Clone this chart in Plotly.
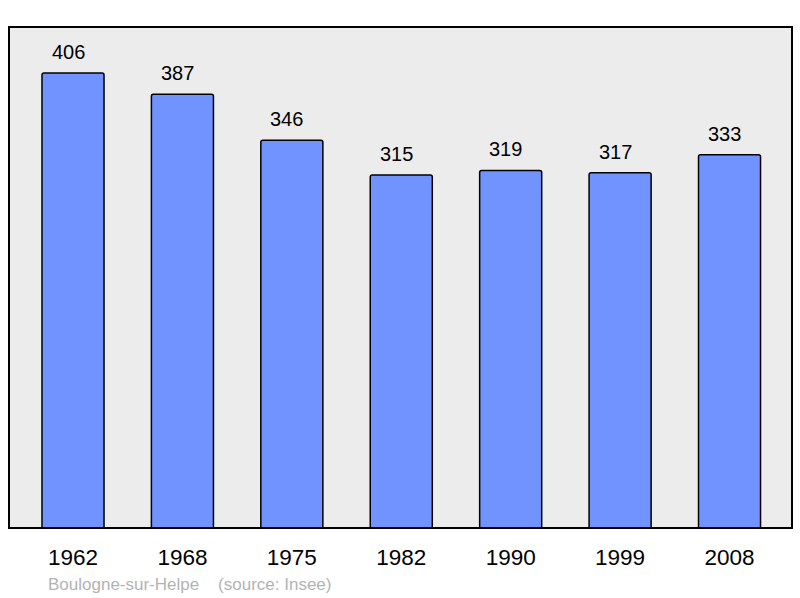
import plotly.graph_objects as go

years = ["1962", "1968", "1975", "1982", "1990", "1999", "2008"]
population = [406, 387, 346, 315, 319, 317, 333]
commune = "Boulogne-sur-Helpe"
source = "(source: Insee)"

xs = list(range(len(years)))
FONT = "Liberation Sans, Arial, sans-serif"

fig = go.Figure()
fig.add_trace(go.Bar(
    x=xs, y=population, width=0.567,
    marker=dict(color="#7093ff", line=dict(color="#000000", width=1.5), cornerradius=2),
    hoverinfo="skip",
))

for x, v in zip(xs, population):
    fig.add_annotation(x=x, y=v, text=str(v), showarrow=False, yanchor="bottom",
                       yshift=8, xshift=-5, font=dict(size=20, color="#000000", family=FONT))

fig.add_annotation(xref="paper", yref="paper", x=(46 - 9) / 783, y=-(584 - 528) / 501,
                   xanchor="left", yanchor="middle", showarrow=False,
                   text=commune + "\u00a0\u00a0\u00a0\u00a0" + source,
                   font=dict(size=17, color="#b3b3b3", family=FONT))

fig.add_shape(type="rect", xref="paper", yref="paper", x0=0, y0=0, x1=1, y1=1,
              line=dict(color="#000000", width=2), layer="above")

fig.update_layout(
    width=800, height=598,
    margin=dict(l=9, r=8, t=27, b=70),
    paper_bgcolor="#ffffff", plot_bgcolor="#ececec",
    showlegend=False,
    font=dict(family=FONT, color="#000000"),
    xaxis=dict(range=[-0.585, 6.571], tickmode="array", tickvals=xs, ticktext=years,
               showgrid=False, zeroline=False, showline=False, ticks="",
               tickfont=dict(size=22.5), ticklabelstandoff=13, fixedrange=True),
    yaxis=dict(range=[0, 447], showgrid=False, zeroline=False, showline=False,
               showticklabels=False, ticks="", fixedrange=True),
)

fig.write_html("out.html", config={"displayModeBar": False},
               post_script="document.body.style.margin='0px';document.body.style.overflow='hidden';")
